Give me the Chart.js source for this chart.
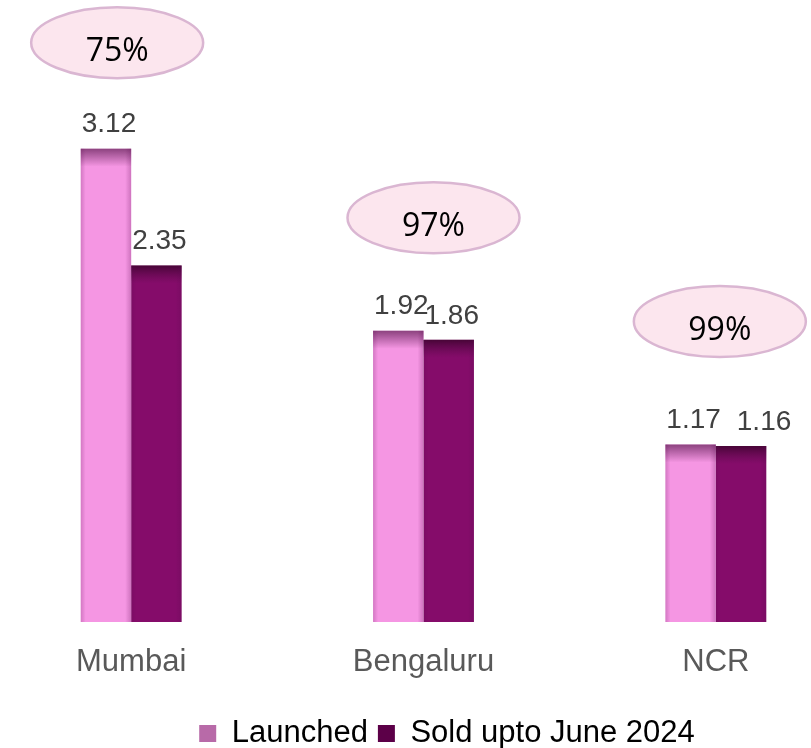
<!DOCTYPE html>
<html>
<head>
<meta charset="utf-8">
<script src="https://cdn.jsdelivr.net/npm/chart.js@4"></script>
<style>
  html, body { margin: 0; padding: 0; background: #fff; overflow: hidden; }
  /* the plot runs a little past both page edges, like the original */
  #wrap { position: absolute; left: -15px; top: 0; width: 924px; height: 759px; }
</style>
</head>
<body>
<div id="wrap"><canvas id="myChart"></canvas></div>
<script>
// data
const cities = ["Mumbai", "Bengaluru", "NCR"];
const launched = [3.12, 1.92, 1.17];
const soldJune2024 = [2.35, 1.86, 1.16];
const soldShare = ["75%", "97%", "99%"];

const pink = "#F596E3";
const plum = "#850C6A";

// top bevel + edge shading on every bar
const bevelPlugin = {
    id: "bevel",
    afterDatasetsDraw(chart) {
        const ctx = chart.ctx;
        chart.data.datasets.forEach((ds, di) => {
            chart.getDatasetMeta(di).data.forEach(bar => {
                const { x, y, width, base } = bar.getProps(["x", "y", "width", "base"], true);
                const left = x - width / 2;
                const h = base - y;
                ctx.save();
                let g = ctx.createLinearGradient(0, y, 0, y + 18);
                g.addColorStop(0, di === 0 ? "rgba(70,10,60,0.6)" : "rgba(30,0,20,0.6)");
                g.addColorStop(1, "rgba(70,10,60,0)");
                ctx.fillStyle = g;
                ctx.fillRect(left, y, width, 18);

                g = ctx.createLinearGradient(left, 0, left + 5, 0);
                g.addColorStop(0, "rgba(90,10,80,0.22)");
                g.addColorStop(1, "rgba(90,10,80,0)");
                ctx.fillStyle = g;
                ctx.fillRect(left, y, 5, h);

                g = ctx.createLinearGradient(left + width - 6, 0, left + width, 0);
                g.addColorStop(0, "rgba(90,10,80,0)");
                g.addColorStop(1, "rgba(90,10,80,0.25)");
                ctx.fillStyle = g;
                ctx.fillRect(left + width - 6, y, 6, h);
                ctx.restore();
            });
        });
    }
};

// value labels over bars and the sold-share bubbles
const labelPlugin = {
    id: "labels",
    afterDraw(chart, args, opts) {
        const ctx = chart.ctx;
        ctx.save();
        ctx.font = "28px 'Liberation Sans', Arial, sans-serif";
        ctx.fillStyle = "#404040";
        ctx.textAlign = "center";
        ctx.textBaseline = "middle";
        chart.data.datasets.forEach((ds, di) => {
            chart.getDatasetMeta(di).data.forEach((bar, i) => {
                const shift = (opts.nudge[di + "," + i] || 0);
                ctx.fillText(ds.data[i].toFixed(2), bar.x + 3 + shift, bar.y - 24);
            });
        });

        const m0 = chart.getDatasetMeta(0).data;
        const m1 = chart.getDatasetMeta(1).data;
        cities.forEach((c, i) => {
            const top = Math.min(m0[i].y, m1[i].y);
            const cx = (m0[i].x + m1[i].x) / 2 + opts.dx[i];
            const cy = top - opts.lift[i];
            ctx.beginPath();
            ctx.ellipse(cx, cy, 86, 35.5, 0, 0, Math.PI * 2);
            ctx.fillStyle = "#FCE6EE";
            ctx.fill();
            ctx.lineWidth = 2.5;
            ctx.strokeStyle = "#DAB6D2";
            ctx.stroke();
            ctx.font = "32px 'Open Sans', 'Noto Sans', sans-serif";
            ctx.fillStyle = "#000";
            ctx.fillText(soldShare[i], cx, cy + 9);
        });
        ctx.restore();
    }
};

new Chart(document.getElementById("myChart"), {
    type: "bar",
    data: {
        labels: cities,
        datasets: [
            { label: "Launched", data: launched, backgroundColor: pink, borderWidth: 0 },
            { label: "Sold upto June 2024", data: soldJune2024, backgroundColor: plum, borderWidth: 0 }
        ]
    },
    options: {
        responsive: true,
        maintainAspectRatio: false,
        animation: false,
        categoryPercentage: 0.345,
        barPercentage: 1,
        layout: { padding: 0 },
        scales: {
            x: {
                grid: { display: false, drawTicks: false },
                border: { display: false },
                ticks: {
                    padding: 22,
                    color: "#595959",
                    font: { family: "'Liberation Sans', Arial, sans-serif", size: 31 }
                },
                afterFit: scale => { scale.height = 86; }
            },
            y: {
                position: "right",
                min: 0,
                max: 4.1,
                grid: { display: false },
                border: { display: false },
                ticks: { display: false },
                afterFit: scale => { scale.width = 47; }
            }
        },
        plugins: {
            tooltip: { enabled: false },
            legend: {
                position: "bottom",
                labels: {
                    boxWidth: 17,
                    boxHeight: 17,
                    padding: 10,
                    color: "#595959",
                    font: { family: "'Liberation Sans', Arial, sans-serif", size: 31 },
                    generateLabels: chart => chart.data.datasets.map((ds, i) => ({
                        text: ds.label,
                        fillStyle: i === 0 ? "#B86AA8" : "#5C0048",
                        strokeStyle: i === 0 ? "#B86AA8" : "#5C0048",
                        lineWidth: 0,
                        datasetIndex: i
                    }))
                }
            },
            labels: {
                dx: [-14, 10, 4],
                lift: [106, 113, 123],
                nudge: { "1,2": 20 }
            }
        }
    },
    plugins: [bevelPlugin, labelPlugin]
});
</script>
</body>
</html>
